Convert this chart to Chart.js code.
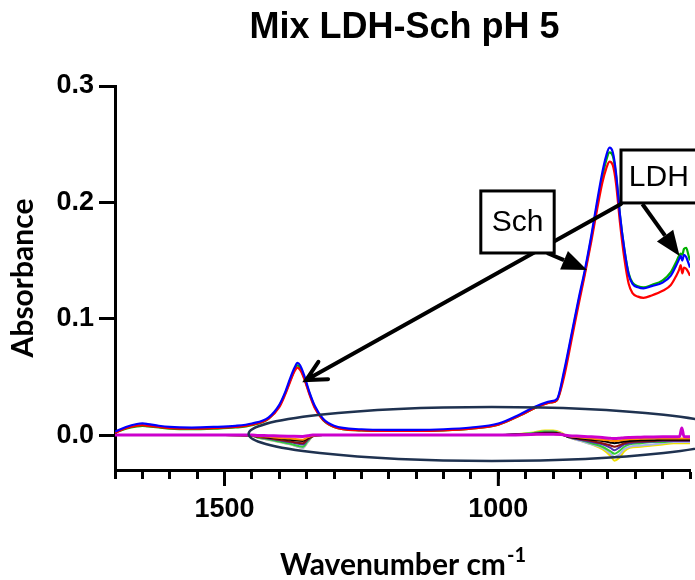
<!DOCTYPE html>
<html>
<head>
<meta charset="utf-8">
<title>Mix LDH-Sch pH 5</title>
<script src="https://cdn.jsdelivr.net/npm/chart.js@4.4.1/dist/chart.umd.min.js"></script>
<style>
  html, body { margin: 0; padding: 0; background: #fff; }
  #wrap { width: 695px; height: 580px; }
</style>
</head>
<body>
<div id="wrap"><canvas id="chart" width="695" height="580"></canvas></div>
<script>
// Spectra (absorbance vs wavenumber)
const wavenumbers = [
  1700, 1680, 1660, 1650, 1640, 1620, 1600, 1560, 1520, 1480,
  1450, 1420, 1400, 1390, 1380, 1372, 1367, 1362, 1355, 1345,
  1335, 1320, 1300, 1250, 1200, 1150, 1100, 1050, 1000, 960,
  930, 905, 893, 880, 865, 853, 842, 830, 820, 810,
  803, 797, 791, 785, 778, 770, 762, 755, 745, 735,
  720, 700, 685, 675, 670, 667, 664, 661, 657, 653,
  650
];
const blueSpectrum = [
  0.003, 0.007, 0.0095, 0.010, 0.0095, 0.008, 0.007, 0.0065, 0.007, 0.008,
  0.010, 0.015, 0.026, 0.036, 0.049, 0.058, 0.062, 0.060, 0.052, 0.037,
  0.025, 0.014, 0.008, 0.005, 0.0045, 0.0045, 0.005, 0.0065, 0.010, 0.018,
  0.025, 0.029, 0.031, 0.055, 0.090, 0.118, 0.142, 0.172, 0.200, 0.226,
  0.240, 0.247, 0.243, 0.225, 0.190, 0.160, 0.138, 0.130, 0.127, 0.126,
  0.128, 0.131, 0.137, 0.146, 0.151, 0.154, 0.150, 0.155, 0.153, 0.148,
  0.144
];
const redSpectrum = [
  0.002, 0.006, 0.008, 0.0085, 0.008, 0.007, 0.006, 0.0055, 0.006, 0.007,
  0.009, 0.014, 0.024, 0.034, 0.046, 0.055, 0.058, 0.056, 0.049, 0.035,
  0.023, 0.013, 0.007, 0.004, 0.0035, 0.0035, 0.004, 0.0055, 0.009, 0.017,
  0.024, 0.028, 0.030, 0.050, 0.085, 0.113, 0.138, 0.167, 0.193, 0.217,
  0.229, 0.235, 0.232, 0.216, 0.183, 0.152, 0.130, 0.122, 0.119, 0.118,
  0.120, 0.124, 0.129, 0.137, 0.142, 0.146, 0.139, 0.144, 0.143, 0.140,
  0.137
];
const greenSpectrum = [
  0.002, 0.0055, 0.0075, 0.008, 0.0075, 0.0065, 0.0055, 0.005, 0.0055, 0.0065,
  0.0085, 0.014, 0.025, 0.035, 0.047, 0.056, 0.060, 0.058, 0.050, 0.036,
  0.024, 0.013, 0.007, 0.004, 0.0035, 0.0035, 0.004, 0.0055, 0.009, 0.017,
  0.024, 0.028, 0.030, 0.053, 0.088, 0.116, 0.140, 0.170, 0.197, 0.222,
  0.236, 0.243, 0.240, 0.223, 0.189, 0.160, 0.139, 0.131, 0.128, 0.127,
  0.129, 0.133, 0.140, 0.149, 0.154, 0.156, 0.155, 0.160, 0.161, 0.155,
  0.150
];

// Difference spectra near zero
const diffWavenumbers = [
  1700, 1600, 1500, 1450, 1440, 1420, 1400, 1380, 1357, 1348,
  1339, 1320, 1200, 1000, 940, 915, 900, 885, 871, 850,
  830, 810, 795, 788, 780, 770, 760, 740, 719, 700,
  680, 669, 665, 661, 650
];
const diffMagenta = [
  0, 0, 0, 0, -0.0003, -0.0005, -0.0008, -0.001, -0.0012, -0.0006,
  0, 0, 0, 0, 0.0005, 0.0008, 0.0008, 0.0004, -0.0005, -0.001,
  -0.0015, -0.002, -0.0028, -0.003, -0.0028, -0.0022, -0.002, -0.0018, -0.0016, -0.0015,
  -0.0015, -0.0012, 0.006, -0.0012, -0.0015
];
const diffOrange = [
  0, 0, 0, -0.0003, -0.001, -0.0015, -0.0025, -0.003, -0.004, -0.002,
  -0.0005, 0, 0, 0, 0.0005, 0.001, 0.001, 0.0005, -0.001, -0.002,
  -0.003, -0.004, -0.0048, -0.005, -0.0048, -0.004, -0.0035, -0.0032, -0.003, -0.003,
  -0.003, -0.003, -0.003, -0.003, -0.003
];
const diffBlack = [
  0, 0, 0, -0.0003, -0.001, -0.002, -0.003, -0.004, -0.005, -0.0025,
  -0.0005, 0, 0, 0, 0.001, 0.0015, 0.0015, 0.0005, -0.0015, -0.003,
  -0.004, -0.005, -0.0065, -0.007, -0.0065, -0.0055, -0.005, -0.0045, -0.0045, -0.004,
  -0.004, -0.004, -0.004, -0.004, -0.004
];
const diffDarkRed = [
  0, 0, 0, -0.0005, -0.0015, -0.0025, -0.004, -0.0055, -0.007, -0.0035,
  -0.001, 0, 0, 0, 0.001, 0.002, 0.002, 0.001, -0.0015, -0.0035,
  -0.005, -0.007, -0.009, -0.010, -0.009, -0.007, -0.006, -0.0055, -0.005, -0.0045,
  -0.0045, -0.0045, -0.0045, -0.0045, -0.0045
];
const diffViolet = [
  0, 0, 0, -0.0005, -0.0015, -0.003, -0.0045, -0.006, -0.008, -0.004,
  -0.001, 0, 0, 0, 0.001, 0.002, 0.002, 0.001, -0.002, -0.004,
  -0.006, -0.008, -0.011, -0.013, -0.011, -0.008, -0.007, -0.006, -0.0055, -0.005,
  -0.005, -0.005, -0.005, -0.005, -0.005
];
const diffGreen = [
  0, 0, 0, -0.0005, -0.002, -0.0035, -0.0055, -0.0075, -0.010, -0.005,
  -0.001, 0, 0, 0, 0.0015, 0.003, 0.003, 0.001, -0.002, -0.004,
  -0.007, -0.010, -0.014, -0.016, -0.014, -0.010, -0.008, -0.007, -0.006, -0.006,
  -0.005, -0.005, -0.005, -0.005, -0.005
];
const diffLightBlue = [
  0, 0, 0, -0.0005, -0.002, -0.004, -0.006, -0.008, -0.011, -0.006,
  -0.001, 0, 0, 0, 0.0015, 0.003, 0.003, 0.0015, -0.002, -0.005,
  -0.008, -0.011, -0.016, -0.019, -0.017, -0.012, -0.010, -0.009, -0.008, -0.007,
  -0.006, -0.006, -0.006, -0.006, -0.006
];
const diffYellow = [
  0, 0, 0, -0.0005, -0.002, -0.004, -0.006, -0.008, -0.011, -0.006,
  -0.001, 0, 0, 0, 0.002, 0.004, 0.004, 0.002, -0.002, -0.005,
  -0.008, -0.012, -0.018, -0.022, -0.020, -0.014, -0.011, -0.010, -0.009, -0.008,
  -0.007, -0.007, -0.007, -0.007, -0.007
];

// Annotations, in data units (wavenumber, absorbance)
const schBox = { x1: 1032, x2: 898, y1: 0.2098, y2: 0.1565, text: 'Sch' };
const ldhBox = { x1: 776, x2: 638, y1: 0.245, y2: 0.1995, text: 'LDH' };
const arrows = [
  { from: [776, 0.1986], to: [1351, 0.0473], head: 'open' },
  { from: [911, 0.1565], to: [838, 0.1419], head: 'filled' },
  { from: [737, 0.1986], to: [669, 0.1539], head: 'filled' },
];
const ringCenter = [1012, 0.001];
const ringRadius = [444, 0.0232];

const tickFont = { family: '"Liberation Sans", Arial, sans-serif', size: 27, weight: 'bold' };
const titleFamily = 'Lato, "Open Sans", sans-serif';

const toPoints = (xs, ys) => xs.map((x, i) => ({ x, y: ys[i] }));

function line(label, xs, ys, color, width) {
  return {
    label,
    data: toPoints(xs, ys),
    borderColor: color,
    borderWidth: width,
    pointRadius: 0,
    fill: false,
    cubicInterpolationMode: 'monotone',
  };
}

function drawArrow(ctx, x1, y1, x2, y2, head) {
  const ang = Math.atan2(y2 - y1, x2 - x1);
  ctx.lineWidth = 4;
  ctx.strokeStyle = '#000';
  ctx.fillStyle = '#000';
  if (head === 'filled') {
    const len = 25, half = 10;
    const bx = x2 - Math.cos(ang) * len, by = y2 - Math.sin(ang) * len;
    ctx.beginPath();
    ctx.moveTo(x1, y1);
    ctx.lineTo(bx, by);
    ctx.stroke();
    ctx.beginPath();
    ctx.moveTo(x2, y2);
    ctx.lineTo(bx - Math.sin(ang) * half, by + Math.cos(ang) * half);
    ctx.lineTo(bx + Math.sin(ang) * half, by - Math.cos(ang) * half);
    ctx.closePath();
    ctx.fill();
  } else {
    const len = 22, spread = 0.47;
    ctx.lineCap = 'round';
    ctx.beginPath();
    ctx.moveTo(x1, y1);
    ctx.lineTo(x2, y2);
    ctx.moveTo(x2 - Math.cos(ang - spread) * len, y2 - Math.sin(ang - spread) * len);
    ctx.lineTo(x2, y2);
    ctx.lineTo(x2 - Math.cos(ang + spread) * len, y2 - Math.sin(ang + spread) * len);
    ctx.stroke();
    ctx.lineCap = 'butt';
  }
}

const overlay = {
  id: 'overlay',
  afterDraw(chart) {
    const { ctx, chartArea, scales: { x, y } } = chart;
    const cx = (chartArea.left + chartArea.right) / 2;
    ctx.save();

    // longer major ticks on the wavenumber axis
    ctx.strokeStyle = '#000';
    ctx.lineWidth = 3;
    x.ticks.forEach(t => {
      if (t.value % 500 !== 0) return;
      const px = x.getPixelForValue(t.value);
      ctx.beginPath();
      ctx.moveTo(px, chartArea.bottom);
      ctx.lineTo(px, chartArea.bottom + 16);
      ctx.stroke();
    });

    // ellipse round the difference spectra
    const ex = x.getPixelForValue(ringCenter[0]);
    const ey = y.getPixelForValue(ringCenter[1]);
    const rx = Math.abs(x.getPixelForValue(ringCenter[0] + ringRadius[0]) - ex);
    const ry = Math.abs(y.getPixelForValue(ringCenter[1] + ringRadius[1]) - ey);
    ctx.strokeStyle = '#1f3250';
    ctx.lineWidth = 2.5;
    ctx.beginPath();
    ctx.ellipse(ex, ey, rx, ry, 0, 0, Math.PI * 2);
    ctx.stroke();

    // arrows
    arrows.forEach(a => {
      drawArrow(ctx,
        x.getPixelForValue(a.from[0]), y.getPixelForValue(a.from[1]),
        x.getPixelForValue(a.to[0]), y.getPixelForValue(a.to[1]), a.head);
    });

    // label boxes
    [schBox, ldhBox].forEach(b => {
      const l = x.getPixelForValue(b.x1), r = x.getPixelForValue(b.x2);
      const t = y.getPixelForValue(b.y1), bt = y.getPixelForValue(b.y2);
      ctx.fillStyle = '#fff';
      ctx.fillRect(l, t, r - l, bt - t);
      ctx.strokeStyle = '#000';
      ctx.lineWidth = 3;
      ctx.strokeRect(l, t, r - l, bt - t);
      ctx.fillStyle = '#000';
      ctx.font = '30px "Liberation Sans", Arial, sans-serif';
      ctx.textAlign = 'center';
      ctx.textBaseline = 'middle';
      ctx.fillText(b.text, (l + r) / 2, (t + bt) / 2 + 1);
    });

    // title
    ctx.fillStyle = '#000';
    ctx.textAlign = 'center';
    ctx.textBaseline = 'alphabetic';
    ctx.font = 'bold 36px "Liberation Sans", Arial, sans-serif';
    ctx.fillText('Mix LDH-Sch pH 5', cx + 2, 38);

    // x axis title with superscript
    const main = 'Wavenumber cm', sup = '-1';
    ctx.font = `bold 30px ${titleFamily}`;
    const w1 = ctx.measureText(main).width;
    ctx.font = `bold 20px ${titleFamily}`;
    const w2 = ctx.measureText(sup).width;
    const sx = cx - (w1 + w2) / 2;
    ctx.textAlign = 'left';
    ctx.font = `bold 30px ${titleFamily}`;
    ctx.fillText(main, sx, 575);
    ctx.font = `bold 20px ${titleFamily}`;
    ctx.fillText(sup, sx + w1 + 1, 562);
    ctx.restore();
  }
};

new Chart(document.getElementById('chart'), {
  type: 'line',
  data: {
    datasets: [
      line('blue', wavenumbers, blueSpectrum, '#0000ff', 2.2),
      line('red', wavenumbers, redSpectrum, '#ff0000', 2.2),
      line('green', wavenumbers, greenSpectrum, '#00b000', 2.2),
      line('magenta', diffWavenumbers, diffMagenta, '#cc00cc', 3),
      line('orange', diffWavenumbers, diffOrange, '#ff8c00', 2),
      line('black', diffWavenumbers, diffBlack, '#000000', 2),
      line('darkred', diffWavenumbers, diffDarkRed, '#8b1010', 2),
      line('violet', diffWavenumbers, diffViolet, '#5030b0', 2),
      line('green2', diffWavenumbers, diffGreen, '#33cc33', 2),
      line('lightblue', diffWavenumbers, diffLightBlue, '#a8b0ec', 2),
      line('yellow', diffWavenumbers, diffYellow, '#f0e000', 2),
    ],
  },
  options: {
    responsive: false,
    animation: false,
    layout: { padding: { top: 86, right: 5, left: 0, bottom: 0 } },
    plugins: {
      legend: { display: false },
      tooltip: { enabled: false },
    },
    scales: {
      x: {
        type: 'linear',
        reverse: true,
        min: 650,
        max: 1700,
        border: { display: true, color: '#000', width: 3 },
        grid: { display: true, drawOnChartArea: false, tickLength: 9, tickWidth: 3, tickColor: '#000' },
        ticks: {
          stepSize: 50,
          autoSkip: false,
          maxRotation: 0,
          padding: 14,
          color: '#000',
          font: tickFont,
          callback: v => (v % 500 === 0 ? String(v) : ''),
        },
        // fixed axis band; no label overflow padding at the ends
        afterFit: s => { s.height = 110; s.paddingLeft = 0; s.paddingRight = 0; },
      },
      y: {
        min: -0.03,
        max: 0.3,
        border: { display: true, color: '#000', width: 3 },
        grid: { display: true, drawOnChartArea: false, tickLength: 16, tickWidth: 3, tickColor: '#000' },
        ticks: {
          stepSize: 0.1,
          padding: 5,
          color: '#000',
          font: tickFont,
          callback: v => Number(v).toFixed(1),
        },
        afterBuildTicks: s => { s.ticks = s.ticks.filter(t => t.value > -0.02); },
        title: {
          display: true,
          text: 'Absorbance',
          color: '#000',
          font: { family: titleFamily, size: 30, weight: 'bold' },
          padding: { top: 5, bottom: 0 },
        },
        afterFit: s => { s.width = 115; },
      },
    },
  },
  plugins: [overlay],
});
</script>
</body>
</html>
